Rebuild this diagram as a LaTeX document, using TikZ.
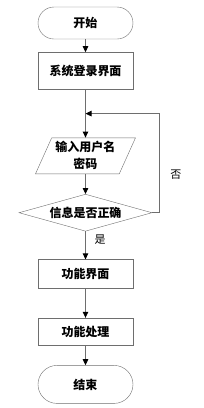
\documentclass[tikz,border=0pt]{standalone}
\usepackage{fontspec}
\setmainfont{Noto Sans CJK SC}
\usetikzlibrary{arrows.meta,positioning,shapes.geometric,calc}
\definecolor{linegray}{RGB}{110,110,110}

\tikzset{
  boxtext/.style={font=\fontsize{12}{17}\selectfont\bfseries},
  terminal/.style={draw=linegray,boxtext,rounded corners=16pt,minimum width=95pt,minimum height=32pt},
  process/.style={draw=linegray,boxtext,minimum width=95pt,minimum height=29pt},
  io/.style={draw=linegray,boxtext,trapezium,trapezium left angle=62,trapezium right angle=118,
    trapezium stretches body,minimum width=100pt,minimum height=36pt,align=center,inner sep=1pt},
  decision/.style={draw=linegray,boxtext,diamond,aspect=3.6,minimum width=133pt,minimum height=37pt,inner sep=0pt},
  flow/.style={draw=linegray,line width=0.8pt,-{Triangle[length=6pt,width=5.5pt,black]}},
  tag/.style={font=\fontsize{11}{13}\selectfont}
}

\begin{document}
\begin{tikzpicture}[x=1pt,y=1pt]
  \useasboundingbox (0,0) rectangle (204,-408);
  \node[terminal] (start) at (85.5,-23) {开始};
  \node[process,minimum height=37pt,below=13pt of start] (login) {系统登录界面};
  \node[io,below=48pt of login] (input) {输入用户名\\密码};
  \node[decision,below=20pt of input] (check) {信息是否正确};
  \node[process,below=28pt of check] (func) {功能界面};
  \node[process,minimum height=27pt,below=29pt of func] (proc) {功能处理};
  \node[terminal,rounded corners=19pt,minimum height=38pt,below=20pt of proc] (stop) {结束};

  \coordinate (merge) at ($(login.south)!0.5!(input.north)$);

  \draw[flow] (start) -- (login);
  \draw[flow] (login) -- (input);
  \draw[flow] (input) -- (check);
  \draw[flow] (check) -- node[tag,right=5.5pt,pos=0.29] {是} (func);
  \draw[flow] (func) -- (proc);
  \draw[flow] (proc) -- (stop);
  \draw[flow] (check.east) -- ++(7,0) coordinate (turn)
    -- node[tag,right=7.5pt,pos=0.38] {否} (turn |- merge) -- (merge);
\end{tikzpicture}
\end{document}
